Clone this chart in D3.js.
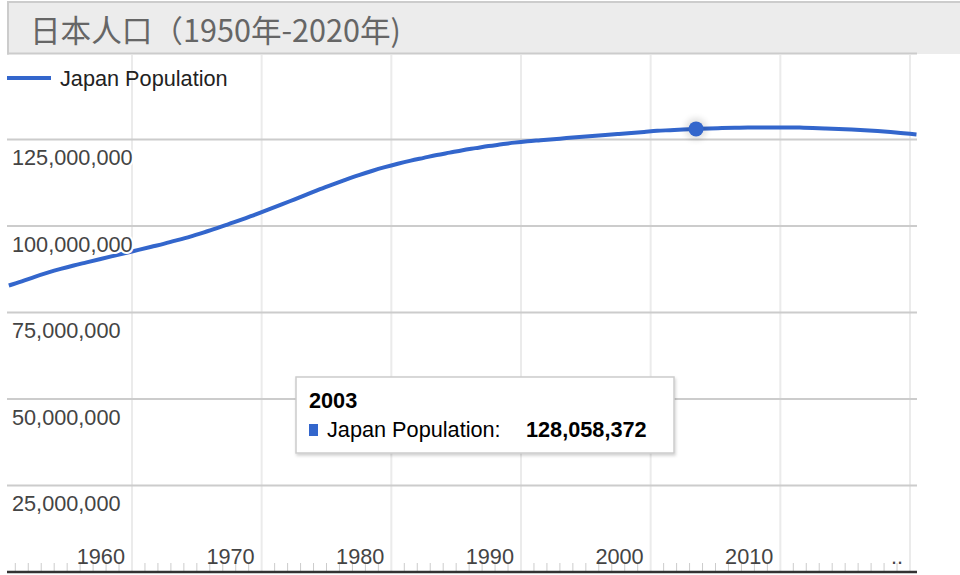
<!DOCTYPE html>
<html>
<head>
<meta charset="utf-8">
<script src="https://cdn.jsdelivr.net/npm/d3@7"></script>
<style>
  html, body { margin: 0; padding: 0; background: #fff; }
  svg { display: block; }
</style>
</head>
<body>
<svg id="chart" width="960" height="575"></svg>
<script>
// ---- data ----
const title = "日本人口（1950年-2020年)";
const seriesName = "Japan Population";
const years = d3.range(1950, 2021);
const population = [
  82800000, 84000000, 85300000, 86500000, 87600000, 88600000, 89500000, 90400000, 91300000, 92200000,
  93100000, 94000000, 94900000, 95900000, 96950000, 98100000, 99300000, 100600000, 101900000, 103300000,
  104700000, 106150000, 107650000, 109150000, 110650000, 112050000, 113400000, 114700000, 115900000, 117000000,
  118000000, 118900000, 119700000, 120500000, 121200000, 121900000, 122500000, 123100000, 123600000, 124100000,
  124500000, 124800000, 125100000, 125400000, 125700000, 126000000, 126300000, 126600000, 126900000, 127200000,
  127500000, 127700000, 127900000, 128058372, 128200000, 128300000, 128400000, 128450000, 128500000, 128500000,
  128500000, 128450000, 128350000, 128200000, 128050000, 127900000, 127700000, 127450000, 127150000, 126800000,
  126450000
];
const xTickYears = [1960, 1970, 1980, 1990, 2000, 2010, 2020];
const xTickLabels = ["1960", "1970", "1980", "1990", "2000", "2010", ".."];
const yTickValues = [25000000, 50000000, 75000000, 100000000, 125000000];
const highlightYear = 2003;

// ---- setup ----
const svg = d3.select("#chart");
const FONT = "Arial, 'Liberation Sans', sans-serif";
const left = 7, right = 917, baseY = 572;

const x = d3.scaleLinear().domain([1960, 2020]).range([132, 910]);
const y = d3.scaleLinear().domain([0, 125000000]).range([baseY, 139.5]);
const data = years.map((yr, i) => ({ year: yr, value: population[i] }));

const defs = svg.append("defs");
const sh = defs.append("filter").attr("id", "shadow").attr("x", "-10%").attr("y", "-10%").attr("width", "130%").attr("height", "140%");
sh.append("feDropShadow").attr("dx", 1).attr("dy", 2).attr("stdDeviation", 1.5).attr("flood-color", "#000").attr("flood-opacity", 0.18);
const halo = defs.append("filter").attr("id", "halo").attr("x", "-100%").attr("y", "-100%").attr("width", "300%").attr("height", "300%");
halo.append("feGaussianBlur").attr("stdDeviation", 3);

// title box
svg.append("rect").attr("x", left).attr("y", 1).attr("width", 960 - left).attr("height", 53).attr("fill", "#ececec");
svg.append("line").attr("x1", left).attr("x2", 960).attr("y1", 2).attr("y2", 2).attr("stroke", "#cccccc").attr("stroke-width", 2);
svg.append("line").attr("x1", left).attr("x2", right).attr("y1", 53.5).attr("y2", 53.5).attr("stroke", "#cccccc").attr("stroke-width", 2);
svg.append("line").attr("x1", left + 1).attr("x2", left + 1).attr("y1", 1).attr("y2", 54.5).attr("stroke", "#cccccc").attr("stroke-width", 2);
svg.append("text").attr("x", 30).attr("y", 42).text(title)
  .attr("font-family", "'Microsoft YaHei', 'Noto Sans CJK SC', sans-serif")
  .attr("font-size", 30.6).attr("fill", "#666");

// vertical gridlines
svg.append("g").selectAll("line").data(xTickYears).join("line")
  .attr("x1", d => x(d)).attr("x2", d => x(d))
  .attr("y1", 55).attr("y2", baseY)
  .attr("stroke", "#ebebeb").attr("stroke-width", 2);

// horizontal gridlines
svg.append("g").selectAll("line").data(yTickValues).join("line")
  .attr("x1", left).attr("x2", right)
  .attr("y1", d => y(d)).attr("y2", d => y(d))
  .attr("stroke", "#cccccc").attr("stroke-width", 2);

// minor ticks (every year)
const minorYears = d3.range(1951, 2021).filter(d => d % 10 !== 0);
svg.append("g").selectAll("line").data(minorYears).join("line")
  .attr("x1", d => x(d)).attr("x2", d => x(d))
  .attr("y1", 563).attr("y2", baseY)
  .attr("stroke", "#cccccc").attr("stroke-width", 1);

// legend
svg.append("line").attr("x1", left).attr("x2", 51).attr("y1", 78).attr("y2", 78)
  .attr("stroke", "#3366cc").attr("stroke-width", 4);
svg.append("text").attr("x", 60).attr("y", 86).text(seriesName)
  .attr("font-family", FONT).attr("font-size", 21.7).attr("fill", "#222");

// line
const line = d3.line().x(d => x(d.year + 0.5)).y(d => y(d.value)).curve(d3.curveMonotoneX);
svg.append("path").datum(data).attr("d", line)
  .attr("fill", "none").attr("stroke", "#3366cc").attr("stroke-width", 4);

// y labels (with white halo)
const fmt = d3.format(",");
svg.append("g").selectAll("text").data(yTickValues).join("text")
  .attr("x", 12).attr("y", d => y(d) + 25.5)
  .text(d => fmt(d))
  .attr("font-family", FONT).attr("font-size", 21.7).attr("fill", "#444")
  .attr("stroke", "#fff").attr("stroke-width", 4).attr("paint-order", "stroke").attr("stroke-linejoin", "round");

// x labels
svg.append("g").selectAll("text").data(xTickYears).join("text")
  .attr("x", d => x(d) - 7).attr("y", 564)
  .attr("text-anchor", "end")
  .text((d, i) => xTickLabels[i])
  .attr("font-family", FONT).attr("font-size", 21.7).attr("fill", "#444");

// baseline axis
svg.append("line").attr("x1", left).attr("x2", right).attr("y1", baseY).attr("y2", baseY)
  .attr("stroke", "#333").attr("stroke-width", 2.5);

// highlighted point
const hp = data.find(d => d.year === highlightYear);
svg.append("circle").attr("cx", x(hp.year + 0.5)).attr("cy", y(hp.value)).attr("r", 11)
  .attr("fill", "#000").attr("opacity", 0.12).attr("filter", "url(#halo)");
svg.append("circle").attr("cx", x(hp.year + 0.5)).attr("cy", y(hp.value)).attr("r", 7.5)
  .attr("fill", "#3366cc");

// tooltip
const tt = svg.append("g").attr("transform", "translate(296,377)");
tt.append("rect").attr("x", 0).attr("y", 0).attr("width", 378).attr("height", 76)
  .attr("fill", "#fff").attr("stroke", "#cccccc").attr("stroke-width", 1.5).attr("filter", "url(#shadow)");
tt.append("text").attr("x", 13).attr("y", 31).text(String(hp.year))
  .attr("font-family", FONT).attr("font-size", 21.7).attr("font-weight", "bold").attr("fill", "#000");
tt.append("rect").attr("x", 13).attr("y", 47).attr("width", 9).attr("height", 12).attr("fill", "#3366cc");
tt.append("text").attr("x", 31).attr("y", 59.5).text(seriesName + ":")
  .attr("font-family", FONT).attr("font-size", 21.7).attr("fill", "#000");
tt.append("text").attr("x", 230).attr("y", 59.5).text(fmt(hp.value))
  .attr("font-family", FONT).attr("font-size", 21.7).attr("font-weight", "bold").attr("fill", "#000");
</script>
</body>
</html>
